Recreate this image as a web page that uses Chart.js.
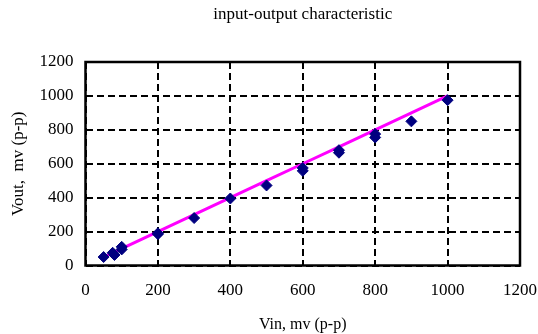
<!DOCTYPE html>
<html>
<head>
<meta charset="utf-8">
<script src="https://cdn.jsdelivr.net/npm/chart.js@4/dist/chart.umd.min.js"></script>
<style>
  html, body { margin: 0; padding: 0; background: #fff; }
</style>
</head>
<body>
<canvas id="ioChart" width="538" height="334"></canvas>
<script>
// measured points (Vin, Vout), mV p-p
const vinMeasured  = [50, 75, 80, 100, 100, 200, 200, 300, 400, 500, 600, 600, 700, 700, 800, 800, 900, 1000];
const voutMeasured = [50, 75, 62, 95, 110, 185, 190, 280, 395, 472, 558, 575, 665, 680, 755, 775, 850, 975];

// ideal line
const vinIdeal  = [50, 100, 200, 300, 400, 500, 600, 700, 800, 900, 1000];
const voutIdeal = [50, 100, 200, 300, 400, 500, 600, 700, 800, 900, 1000];

const axisTicks = [0, 200, 400, 600, 800, 1000, 1200];

const FONT = 'Liberation Serif, Times New Roman, serif';
const GRID_DASH = [7, 4];

const toPoints=(xs,ys)=>xs.map((x,i)=>({x:x,y:ys[i]}));

// box around the plot area, and title centred over the plot instead of the canvas
const frameBox = {
    id: 'frameBox',
    afterLayout(chart){
        const t = chart.titleBlock;
        if(t){
            t.left = chart.chartArea.left;
            t.right = chart.chartArea.right;
            t.width = t.right - t.left;
        }
    },
    beforeDatasetsDraw(chart){
        const {ctx, chartArea:a} = chart;
        ctx.save();
        ctx.strokeStyle = '#000';
        ctx.lineWidth = 2.5;
        ctx.setLineDash([]);
        ctx.strokeRect(a.left, a.top, a.right-a.left, a.bottom-a.top);
        ctx.restore();
    }
};

const ctx = document.getElementById('ioChart').getContext('2d');
const ioChart = new Chart(ctx, {
    type: 'scatter',
    data: {
        datasets: [{
            label: 'ideal',
            data: toPoints(vinIdeal, voutIdeal),
            showLine: true,
            borderColor: '#ff00ff',
            borderWidth: 3,
            pointRadius: 0,
            fill: false,
            order: 2
        },{
            label: 'measured',
            data: toPoints(vinMeasured, voutMeasured),
            pointStyle: 'rectRot',
            pointRadius: 5.5,
            backgroundColor: '#000080',
            borderColor: '#000080',
            borderWidth: 1,
            order: 1
        }]
    },
    options: {
        responsive: false,
        animation: false,
        layout: { padding: { left: 0, right: 18, top: 0, bottom: 0 } },
        plugins: {
            legend: { display: false },
            tooltip: { enabled: false },
            title: {
                display: true,
                text: 'input-output characteristic',
                color: '#000',
                font: { family: FONT, size: 17, weight: 'normal' },
                padding: { top: 4, bottom: 37.6 }
            }
        },
        scales: {
            x: {
                type: 'linear',
                min: 0,
                max: 1200,
                afterBuildTicks: (scale)=>{ scale.ticks = axisTicks.map(v=>({value:v})); },
                afterFit: (scale)=>{
                    scale.height = 68.5;
                    scale.paddingLeft = 0;
                    scale.paddingRight = 0;
                },
                ticks: {
                    color: '#000',
                    padding: 15,
                    maxRotation: 0,
                    font: { family: FONT, size: 17 },
                    callback: (v)=>String(v)
                },
                grid: {
                    color: '#000',
                    lineWidth: 2,
                    drawTicks: false
                },
                border: { display: false, dash: ()=>GRID_DASH },
                title: {
                    display: true,
                    text: 'Vin, mv (p-p)',
                    color: '#000',
                    font: { family: FONT, size: 16 },
                    padding: { top: 0, bottom: 0 }
                }
            },
            y: {
                type: 'linear',
                min: 0,
                max: 1200,
                afterBuildTicks: (scale)=>{ scale.ticks = axisTicks.map(v=>({value:v})); },
                afterFit: (scale)=>{
                    scale.width = 85.5;
                    scale.paddingTop = 0;
                    scale.paddingBottom = 0;
                },
                ticks: {
                    color: '#000',
                    padding: 12,
                    font: { family: FONT, size: 17 },
                    callback: (v)=>String(v)
                },
                grid: {
                    color: '#000',
                    lineWidth: 2,
                    drawTicks: false
                },
                border: { display: false, dash: ()=>GRID_DASH },
                title: {
                    display: true,
                    text: 'Vout,  mv (p-p)',
                    color: '#000',
                    font: { family: FONT, size: 17 },
                    padding: { top: 8, bottom: 0 }
                }
            }
        }
    },
    plugins: [frameBox]
});
</script>
</body>
</html>
